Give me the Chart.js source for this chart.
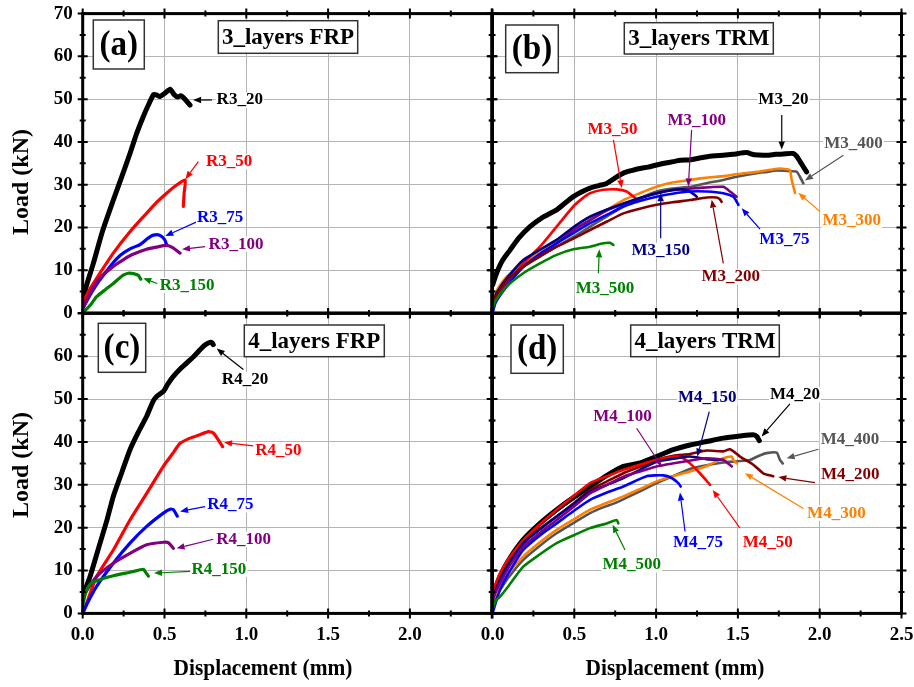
<!DOCTYPE html>
<html>
<head>
<meta charset="utf-8">
<script src="https://cdn.jsdelivr.net/npm/chart.js@4.4.0/dist/chart.umd.min.js"></script>
<style>
  html, body { margin: 0; padding: 0; background: #ffffff; }
  #fig { position: relative; width: 914px; height: 687px; overflow: hidden; }
  #fig canvas { position: absolute; left: 0; top: 0; }
</style>
</head>
<body>
<div id="fig">
  <canvas id="pa" width="914" height="687"></canvas>
  <canvas id="pb" width="914" height="687"></canvas>
  <canvas id="pc" width="914" height="687"></canvas>
  <canvas id="pd" width="914" height="687"></canvas>
</div>
<script>
// Load–displacement records, each point is [displacement (mm), load (kN)]

// 3 layers FRP
const R3_20  = [[0,2],[0.02,6],[0.065,11.6],[0.12,19],[0.187,26.4],[0.24,32],[0.289,37.3],[0.33,42],[0.37,45.9],[0.40,48.5],[0.432,51],[0.45,51],[0.472,50.6],[0.50,51.3],[0.534,52.3],[0.56,51],[0.58,50.5],[0.60,50.8],[0.625,50],[0.656,48.6]];
const R3_50  = [[0,2.5],[0.05,6],[0.1,9],[0.187,14],[0.3,19.5],[0.39,23.3],[0.45,25.8],[0.513,28],[0.57,29.8],[0.626,31.1],[0.62,28],[0.615,24.9]];
const R3_75  = [[0,1],[0.05,4.5],[0.1,7.5],[0.15,10],[0.187,11.8],[0.23,13.5],[0.289,15],[0.35,16],[0.4,17.5],[0.432,18.2],[0.47,18.2],[0.5,17.2],[0.515,15.8]];
const R3_100 = [[0,1],[0.05,5],[0.1,8],[0.187,10.9],[0.25,12.5],[0.3,13.6],[0.39,14.9],[0.45,15.4],[0.513,15.8],[0.55,15.3],[0.595,14]];
const R3_150 = [[0,0],[0.05,2],[0.085,3.8],[0.14,5.5],[0.187,6.9],[0.22,8],[0.25,8.9],[0.28,9.3],[0.31,9.2],[0.34,8.8],[0.355,7.9]];

// 3 layers TRM
const M3_20  = [[0,6.5],[0.025,9.3],[0.06,12.2],[0.107,14.7],[0.16,17.5],[0.229,20.2],[0.3,22.2],[0.392,24.1],[0.44,25.6],[0.494,27.2],[0.55,28.4],[0.596,29.2],[0.65,29.8],[0.698,30.3],[0.75,31.6],[0.8,32.7],[0.85,33.3],[0.9,33.8],[0.95,34.1],[1.003,34.6],[1.05,35.0],[1.105,35.4],[1.15,35.7],[1.207,35.8],[1.26,36.2],[1.32,36.6],[1.411,36.9],[1.47,37.1],[1.553,37.5],[1.6,37.0],[1.676,36.9],[1.73,37.1],[1.778,37.2],[1.839,37.3],[1.86,36.6],[1.88,35.4],[1.9,34.2],[1.92,33.0]];
const M3_50  = [[0,0],[0.02,3],[0.05,5],[0.087,6.9],[0.188,11.6],[0.29,15.5],[0.392,20.2],[0.494,24.9],[0.55,26.8],[0.596,28.0],[0.677,28.8],[0.759,28.9],[0.82,28.4],[0.861,27.2],[0.892,26.4]];
const M3_75  = [[0,0],[0.02,2.5],[0.087,6.2],[0.188,10.8],[0.29,13.8],[0.392,16.3],[0.5,18.8],[0.596,21.0],[0.7,23.0],[0.8,24.9],[0.9,26.2],[1.003,27.2],[1.1,27.9],[1.207,28.4],[1.309,28.4],[1.411,28.0],[1.472,27.2],[1.49,26.2],[1.503,25.3]];
const M3_100 = [[0,2],[0.03,4.5],[0.087,6.9],[0.188,10.8],[0.29,13.8],[0.392,16.3],[0.5,19.5],[0.596,21.7],[0.7,24.0],[0.84,26.0],[0.92,27.0],[1.003,28.0],[1.126,28.8],[1.248,29.2],[1.33,29.4],[1.411,29.5],[1.452,28.4],[1.492,27.2]];
const M3_150 = [[0,2.5],[0.03,5],[0.087,8.1],[0.188,12.4],[0.29,14.8],[0.392,17.1],[0.5,20.2],[0.596,22.5],[0.7,24.2],[0.8,25.6],[0.9,26.9],[0.963,27.6],[1.03,28.2],[1.105,28.8],[1.16,28.9],[1.207,28.4],[1.248,27.2]];
const M3_200 = [[0,2],[0.03,4.5],[0.087,7.7],[0.188,10.8],[0.29,13.2],[0.392,15.5],[0.5,17.5],[0.596,19.4],[0.7,21.4],[0.8,23.3],[0.9,24.4],[1.003,25.3],[1.1,25.9],[1.207,26.4],[1.309,27.0],[1.37,27.0],[1.39,26.6],[1.4,26.0]];
const M3_300 = [[0,3],[0.03,5.5],[0.087,8.5],[0.188,11.6],[0.29,14.5],[0.392,17.1],[0.5,19.5],[0.596,21.7],[0.7,24.1],[0.8,26.4],[0.9,28.0],[1.003,29.5],[1.1,30.5],[1.207,31.1],[1.3,31.6],[1.411,32.0],[1.5,32.5],[1.615,33.0],[1.7,33.5],[1.757,33.8],[1.8,33.6],[1.818,33.4],[1.829,31.1],[1.849,28.1]];
const M3_400 = [[0,2.5],[0.03,5],[0.087,7.7],[0.188,10.8],[0.29,13.3],[0.392,15.5],[0.5,17.9],[0.596,20.2],[0.7,22.6],[0.8,24.9],[0.9,26.8],[1.003,28.4],[1.1,29.1],[1.207,29.5],[1.3,30.3],[1.411,31.1],[1.5,31.9],[1.615,32.7],[1.68,33.0],[1.737,33.3],[1.8,33.2],[1.86,33.0],[1.88,31.8],[1.9,30.3]];
const M3_500 = [[0,1],[0.02,3],[0.087,6.2],[0.188,9.3],[0.29,11.6],[0.392,13.6],[0.494,14.9],[0.596,15.5],[0.677,16.3],[0.718,16.4],[0.739,15.9]];

// 4 layers FRP
const R4_20  = [[0,4],[0.02,6],[0.045,8.6],[0.106,16.4],[0.15,22],[0.187,27.3],[0.24,33],[0.289,38.2],[0.34,42.3],[0.391,46.0],[0.43,49.5],[0.452,50.6],[0.493,51.8],[0.52,53.5],[0.554,55.3],[0.6,57.2],[0.635,58.4],[0.68,60.0],[0.717,61.5],[0.74,62.4],[0.768,63.1],[0.79,63.2],[0.798,62.7]];
const R4_50  = [[0,0],[0.03,3],[0.085,8.6],[0.187,14.8],[0.289,21.8],[0.391,28.0],[0.493,34.3],[0.55,37.3],[0.595,39.7],[0.656,40.9],[0.717,41.7],[0.768,42.4],[0.798,42.1],[0.829,40.5],[0.855,38.9]];
const R4_75  = [[0,0],[0.03,2.5],[0.085,6.3],[0.187,11.7],[0.289,16.4],[0.391,20.3],[0.493,23.4],[0.534,24.3],[0.554,24.2],[0.578,22.7]];
const R4_100 = [[0,3],[0.02,5],[0.085,8.6],[0.187,11.7],[0.289,14.0],[0.391,16.0],[0.493,16.6],[0.523,16.5],[0.554,15.2]];
const R4_150 = [[0,2],[0.02,5],[0.05,7],[0.106,7.9],[0.187,8.8],[0.289,9.6],[0.371,10.3],[0.381,9.8],[0.401,8.7]];

// 4 layers TRM
const M4_20  = [[0,3],[0.02,6],[0.046,8.6],[0.1,12.5],[0.188,17.2],[0.29,21.0],[0.392,24.2],[0.5,27.2],[0.596,29.6],[0.7,32.2],[0.8,34.3],[0.902,35.1],[1.003,36.6],[1.105,38.2],[1.207,39.3],[1.309,40.1],[1.411,40.9],[1.513,41.4],[1.594,41.7],[1.615,41.3],[1.631,40.3]];
const M4_50  = [[0,5],[0.02,7],[0.046,9.4],[0.1,12.8],[0.188,17.1],[0.29,20.8],[0.392,24.2],[0.5,27.5],[0.596,30.4],[0.7,32.0],[0.8,33.5],[0.9,34.7],[1.003,35.8],[1.126,36.6],[1.166,36.2],[1.207,35.0],[1.268,32.7],[1.33,30.0]];
const M4_75  = [[0,0],[0.02,2.5],[0.046,5.5],[0.1,9.5],[0.188,14.8],[0.29,18.2],[0.392,21.0],[0.5,24.0],[0.596,26.5],[0.7,28.2],[0.8,29.6],[0.942,32.0],[1.044,32.2],[1.095,31.6],[1.136,30.4],[1.15,29.6]];
const M4_100 = [[0,3],[0.02,5],[0.046,7.0],[0.1,10.8],[0.188,15.6],[0.29,18.8],[0.392,21.8],[0.5,25.0],[0.596,28.0],[0.7,30.0],[0.8,31.9],[0.9,33.1],[1.003,34.3],[1.166,35.4],[1.309,36.2],[1.411,35.8],[1.462,34.3]];
const M4_150 = [[0,3],[0.02,5.5],[0.046,7.8],[0.1,11.5],[0.188,16.4],[0.29,19.6],[0.392,22.6],[0.5,25.6],[0.596,28.4],[0.7,30.0],[0.8,31.6],[0.9,33.5],[1.003,35.4],[1.126,36.2],[1.207,36.6],[1.309,36.0],[1.411,35.8]];
const M4_200 = [[0,4],[0.02,6],[0.046,7.8],[0.1,11.5],[0.188,16.4],[0.29,19.8],[0.392,22.6],[0.5,25.8],[0.596,28.8],[0.7,30.8],[0.8,32.7],[0.9,34.2],[1.003,35.8],[1.105,36.8],[1.207,37.2],[1.309,38.0],[1.411,37.8],[1.452,38.3],[1.513,36.6],[1.594,34.7],[1.655,32.7],[1.716,32.0]];
const M4_300 = [[0,3],[0.02,4.5],[0.046,6.2],[0.1,9.5],[0.188,13.3],[0.29,16.6],[0.392,19.5],[0.5,22],[0.596,24.2],[0.7,25.8],[0.8,27.3],[0.9,29.0],[1.003,30.8],[1.1,32.0],[1.207,33.1],[1.309,34.4],[1.411,36.2],[1.462,36.6],[1.472,35.8],[1.493,35.0]];
const M4_400 = [[0,2],[0.02,4],[0.046,5.5],[0.1,8.5],[0.188,12.5],[0.29,15.8],[0.392,18.7],[0.5,21.2],[0.596,23.4],[0.68,24.8],[0.759,25.9],[0.83,27.2],[0.902,28.5],[1.003,30.4],[1.1,32.0],[1.207,33.7],[1.3,34.5],[1.411,35.2],[1.5,35.5],[1.574,35.8],[1.63,36.8],[1.676,37.4],[1.737,37.5],[1.757,35.8],[1.774,35.0]];
const M4_500 = [[0,1],[0.02,3],[0.046,3.9],[0.1,6.5],[0.188,10.9],[0.29,13.8],[0.392,16.4],[0.5,18.3],[0.596,19.9],[0.698,21.0],[0.759,21.8],[0.769,21.0]];

// Axis ticks
const xTickValues = [0, 0.5, 1.0, 1.5, 2.0, 2.5];
const yTickValues = [0, 10, 20, 30, 40, 50, 60, 70];

// Panel headings
const panelLetters = ['(a)', '(b)', '(c)', '(d)'];
const panelTitles  = ['3_layers FRP', '3_layers TRM', '4_layers FRP', '4_layers TRM'];

// ---------------------------------------------------------------------------
const FONT = '"Liberation Serif", "Times New Roman", Times, serif';
const CW = 914, CH = 687;
const C = {
  black: '#000000', red: '#ff0000', blue: '#0000ff', purple: '#800080',
  green: '#008000', navy: '#000080', maroon: '#800000', orange: '#ff8000', gray: '#555555'
};

// series style: [name, values, colour, line width]
const seriesA = [
  ['R3_150', R3_150, C.green, 3.2], ['R3_100', R3_100, C.purple, 3.2], ['R3_75', R3_75, C.blue, 3.2],
  ['R3_50', R3_50, C.red, 3.2], ['R3_20', R3_20, C.black, 5]
];
const seriesB = [
  ['M3_500', M3_500, C.green, 2.6], ['M3_200', M3_200, C.maroon, 2.6], ['M3_75', M3_75, C.blue, 2.6],
  ['M3_150', M3_150, C.navy, 2.6], ['M3_100', M3_100, C.purple, 2.6], ['M3_50', M3_50, C.red, 2.6],
  ['M3_300', M3_300, C.orange, 2.6], ['M3_400', M3_400, C.gray, 2.6], ['M3_20', M3_20, C.black, 5]
];
const seriesC = [
  ['R4_150', R4_150, C.green, 3.2], ['R4_100', R4_100, C.purple, 3.2], ['R4_75', R4_75, C.blue, 3.2],
  ['R4_50', R4_50, C.red, 3.2], ['R4_20', R4_20, C.black, 5]
];
const seriesD = [
  ['M4_500', M4_500, C.green, 2.6], ['M4_75', M4_75, C.blue, 2.6], ['M4_100', M4_100, C.purple, 2.6],
  ['M4_150', M4_150, C.navy, 2.6], ['M4_50', M4_50, C.red, 2.6], ['M4_200', M4_200, C.maroon, 2.6],
  ['M4_300', M4_300, C.orange, 2.6], ['M4_400', M4_400, C.gray, 2.6], ['M4_20', M4_20, C.black, 5]
];

// curve callouts in data units: text centre, arrow start, arrow tip
const notesA = [
  ['R3_20', C.black, [0.96, 49.8], [0.79, 49.8], [0.675, 49.8]],
  ['R3_50', C.red, [0.895, 35.4], [0.707, 35.4], [0.628, 31.3]],
  ['R3_75', C.blue, [0.84, 22.4], [0.697, 21.3], [0.505, 18.0]],
  ['R3_100', C.purple, [0.937, 16.1], [0.748, 15.5], [0.607, 14.9]],
  ['R3_150', C.green, [0.638, 6.5], [0.456, 6.9], [0.37, 8.1]]
];
const notesB = [
  ['M3_20', C.black, [1.778, 49.8], [1.768, 46.3], [1.768, 38.2]],
  ['M3_400', C.gray, [2.206, 39.7], [2.145, 36.9], [1.91, 31.0]],
  ['M3_300', C.orange, [2.196, 21.6], [2.002, 23.7], [1.869, 28.1]],
  ['M3_75', C.blue, [1.784, 17.2], [1.635, 19.6], [1.523, 24.5]],
  ['M3_200', C.maroon, [1.456, 8.5], [1.411, 11.6], [1.34, 26.5]],
  ['M3_150', C.navy, [1.028, 14.6], [1.028, 17.5], [1.028, 28.0]],
  ['M3_100', C.purple, [1.248, 45.0], [1.217, 42.8], [1.197, 29.6]],
  ['M3_50', C.red, [0.734, 42.9], [0.739, 40.5], [0.79, 29.2]],
  ['M3_500', C.green, [0.688, 5.8], [0.647, 9.3], [0.653, 14.9]]
];
const notesC = [
  ['R4_20', C.black, [0.992, 54.5], [0.982, 56.9], [0.819, 61.8]],
  ['R4_50', C.red, [1.196, 37.9], [1.043, 39.1], [0.864, 39.9]],
  ['R4_75', C.blue, [0.902, 25.3], [0.748, 24.9], [0.595, 23.8]],
  ['R4_100', C.purple, [0.984, 17.3], [0.798, 17.3], [0.574, 15.2]],
  ['R4_150', C.green, [0.833, 10.3], [0.656, 9.8], [0.436, 9.4]]
];
const notesD = [
  ['M4_20', C.black, [1.849, 51.0], [1.818, 48.9], [1.645, 41.3]],
  ['M4_150', C.navy, [1.313, 50.3], [1.325, 47.1], [1.252, 36.6]],
  ['M4_100', C.purple, [0.794, 46.0], [0.881, 43.2], [1.034, 34.3]],
  ['M4_400', C.gray, [2.185, 40.5], [1.992, 38.3], [1.798, 36.2]],
  ['M4_200', C.maroon, [2.187, 32.3], [1.971, 30.5], [1.747, 31.8]],
  ['M4_300', C.orange, [2.102, 23.4], [1.9, 24.5], [1.543, 32.7]],
  ['M4_50', C.red, [1.682, 16.6], [1.513, 19.9], [1.346, 28.8]],
  ['M4_75', C.blue, [1.256, 16.6], [1.177, 19.1], [1.146, 28.2]],
  ['M4_500', C.green, [0.851, 11.3], [0.81, 14.8], [0.734, 20.7]]
];

// text drawn with an optional horizontal squeeze
function drawText(ctx, text, x, y, size, color, opts) {
  const o = Object.assign({ align: 'center', sx: 1, rot: 0, bg: null }, opts || {});
  ctx.save();
  ctx.translate(x, y);
  ctx.scale(o.sx, 1);
  if (o.rot) ctx.rotate(o.rot);
  ctx.font = 'bold ' + size + 'px ' + FONT;
  ctx.textAlign = o.align;
  ctx.textBaseline = 'middle';
  if (o.bg) {
    const w = ctx.measureText(text).width;
    ctx.fillStyle = o.bg;
    ctx.fillRect(-w / 2 - 1, -size * 0.45, w + 2, size * 0.9);
  }
  ctx.fillStyle = color;
  ctx.fillText(text, 0, 0);
  ctx.restore();
}

function drawArrow(ctx, x0, y0, x1, y1, color) {
  const ang = Math.atan2(y1 - y0, x1 - x0);
  const hl = 8, hw = 3.2;
  const bx = x1 - hl * Math.cos(ang), by = y1 - hl * Math.sin(ang);
  ctx.save();
  ctx.strokeStyle = color;
  ctx.fillStyle = color;
  ctx.lineWidth = 1.2;
  ctx.beginPath(); ctx.moveTo(x0, y0); ctx.lineTo(bx, by); ctx.stroke();
  ctx.beginPath();
  ctx.moveTo(x1, y1);
  ctx.lineTo(bx + hw * Math.sin(ang), by - hw * Math.cos(ang));
  ctx.lineTo(bx - hw * Math.sin(ang), by + hw * Math.cos(ang));
  ctx.closePath(); ctx.fill();
  ctx.restore();
}

function boxedText(ctx, text, box, size, sx) {
  const [x0, y0, x1, y1] = box;
  ctx.save();
  ctx.fillStyle = '#ffffff';
  ctx.fillRect(x0, y0, x1 - x0, y1 - y0);
  ctx.strokeStyle = '#333333';
  ctx.lineWidth = 1.5;
  ctx.strokeRect(x0, y0, x1 - x0, y1 - y0);
  ctx.restore();
  drawText(ctx, text, (x0 + x1) / 2, (y0 + y1) / 2 + 1, size, '#000000', { sx: sx });
}

const panels = [
  { id: 'pa', area: [82.7, 13.6, 491.7, 313], xLab: false, yLab: true, series: seriesA, notes: notesA,
    letter: panelLetters[0], title: panelTitles[0], letterBox: [93.3, 20, 144.3, 69], titleBox: [218.3, 20.7, 357.7, 53.3],
    axisTitles: [['Load (kN)', 22, 182, 24, -Math.PI / 2, 1]] },
  { id: 'pb', area: [492.5, 13.6, 901.5, 313], xLab: false, yLab: false, series: seriesB, notes: notesB,
    letter: panelLetters[1], title: panelTitles[1], letterBox: [505.7, 25, 558.3, 72.7], titleBox: [624.3, 22.7, 773.3, 54],
    axisTitles: [] },
  { id: 'pc', area: [82.7, 313.4, 491.7, 613.4], xLab: true, yLab: true, hideTop: true, hideRight: true, series: seriesC, notes: notesC,
    letter: panelLetters[2], title: panelTitles[2], letterBox: [98.3, 323.3, 145.7, 372.3], titleBox: [244.3, 325, 384.3, 356.7],
    axisTitles: [['Load (kN)', 22, 465, 24, -Math.PI / 2, 1], ['Displacement (mm)', 263, 669, 23, 0, 0.93]] },
  { id: 'pd', area: [492.5, 313.4, 901.5, 613.4], xLab: true, yLab: false, series: seriesD, notes: notesD,
    letter: panelLetters[3], title: panelTitles[3], letterBox: [511, 325, 563.3, 373.3], titleBox: [630.7, 325, 779.3, 356.7],
    axisTitles: [['Displacement (mm)', 675, 669, 23, 0, 0.93]] }
];

function zeroPadding(s) {
  s.paddingTop = 0; s.paddingBottom = 0; s.paddingLeft = 0; s.paddingRight = 0;
}

function makePanel(p) {
  const [L, T, R, B] = p.area;
  // the axis boxes take the full margin so that their labels are not clipped
  const yBox = p.yLab ? L : 0;
  const xBox = p.xLab ? CH - B : 0;

  // frame with tick marks crossing each border, then callouts and headings
  const decor = {
    id: 'decor',
    afterDatasetsDraw(chart) {
      const ctx = chart.ctx;
      const a = chart.chartArea;
      const xs = chart.scales.x, ys = chart.scales.y;
      ctx.save();
      ctx.strokeStyle = '#000000';
      ctx.lineWidth = 2;
      ctx.beginPath();
      for (let i = 0; i <= 10; i++) {
        const px = xs.getPixelForValue(i * 0.25);
        const len = i % 2 === 0 ? 5 : 3;
        ctx.moveTo(px, a.bottom - len); ctx.lineTo(px, a.bottom + len);
        ctx.moveTo(px, a.top - len); ctx.lineTo(px, a.top + len);
      }
      for (let i = 0; i <= 14; i++) {
        const py = ys.getPixelForValue(i * 5);
        const len = i % 2 === 0 ? 5 : 3;
        ctx.moveTo(a.left - len, py); ctx.lineTo(a.left + len, py);
        ctx.moveTo(a.right - len, py); ctx.lineTo(a.right + len, py);
      }
      ctx.stroke();
      ctx.lineWidth = 3;
      ctx.strokeRect(a.left, a.top, a.right - a.left, a.bottom - a.top);
      ctx.restore();

      p.notes.forEach(([text, color, at, from, tip]) => {
        drawArrow(ctx, xs.getPixelForValue(from[0]), ys.getPixelForValue(from[1]),
                  xs.getPixelForValue(tip[0]), ys.getPixelForValue(tip[1]), color);
      });
      p.notes.forEach(([text, color, at]) => {
        drawText(ctx, text, xs.getPixelForValue(at[0]), ys.getPixelForValue(at[1]), 17, color, { bg: '#ffffff' });
      });

      boxedText(ctx, p.letter, p.letterBox, 36, 0.92);
      boxedText(ctx, p.title, p.titleBox, 23, 1);

      p.axisTitles.forEach(([text, x, y, size, rot, sx]) => {
        drawText(ctx, text, x, y, size, '#000000', { rot: rot, sx: sx });
      });
    }
  };

  const tickFont = { family: FONT, size: 19, weight: 'bold' };

  new Chart(document.getElementById(p.id), {
    type: 'line',
    data: {
      datasets: p.series.map(([name, pts, color, width]) => ({
        label: name,
        data: pts.map(([x, y]) => ({ x: x, y: y })),
        borderColor: color,
        backgroundColor: color,
        borderWidth: width,
        pointRadius: 0,
        fill: false,
        tension: 0.2,
        borderCapStyle: 'round',
        borderJoinStyle: 'round'
      }))
    },
    options: {
      responsive: false,
      animation: false,
      devicePixelRatio: 1,
      events: [],
      layout: { padding: { left: L - yBox, top: T, right: CW - R, bottom: CH - B - xBox } },
      plugins: { legend: { display: false }, tooltip: { enabled: false } },
      scales: {
        x: {
          type: 'linear', min: 0, max: 2.5,
          afterFit: (s) => { s.height = xBox; zeroPadding(s); },
          afterBuildTicks: (s) => { s.ticks = xTickValues.map(v => ({ value: v })); },
          grid: { color: '#b4b4b4', lineWidth: 1, drawTicks: false },
          border: { display: false },
          ticks: {
            display: p.xLab, autoSkip: false, maxRotation: 0, minRotation: 0, padding: 10,
            color: '#000000', font: tickFont,
            callback: (v) => (p.hideRight && v === 2.5) ? '' : Number(v).toFixed(1)
          }
        },
        y: {
          type: 'linear', min: 0, max: 70,
          afterFit: (s) => { s.width = yBox; zeroPadding(s); },
          afterBuildTicks: (s) => { s.ticks = yTickValues.map(v => ({ value: v })); },
          grid: { color: '#b4b4b4', lineWidth: 1, drawTicks: false },
          border: { display: false },
          ticks: {
            display: p.yLab, autoSkip: false, padding: 10,
            color: '#000000', font: tickFont,
            callback: (v) => (p.hideTop && v === 70) ? '' : String(v)
          }
        }
      }
    },
    plugins: [decor]
  });
}

panels.forEach(makePanel);
</script>
</body>
</html>
